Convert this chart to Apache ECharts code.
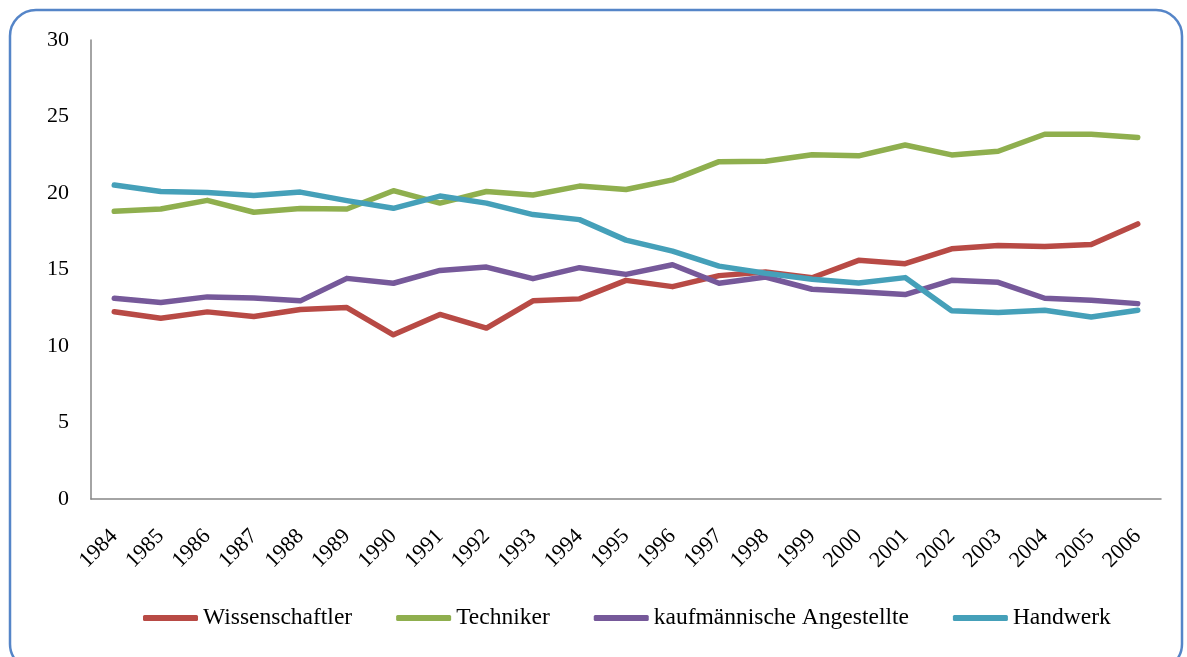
<!DOCTYPE html>
<html>
<head>
<meta charset="utf-8">
<script src="https://cdn.jsdelivr.net/npm/echarts@6/dist/echarts.min.js"></script>
<style>
  html, body { margin: 0; padding: 0; background: #fff; }
  #chart-container { width: 1187px; height: 657px; }
</style>
</head>
<body>
<div id="chart-container"></div>
<script>
const years = [
  "1984", "1985", "1986", "1987", "1988", "1989", "1990", "1991", "1992",
  "1993", "1994", "1995", "1996", "1997", "1998", "1999", "2000", "2001",
  "2002", "2003", "2004", "2005", "2006",
];

const wissenschaftler = [
  12.24, 11.82, 12.23, 11.93, 12.38, 12.51, 10.73, 12.06, 11.17, 12.95, 13.08,
  14.29, 13.88, 14.6, 14.83, 14.46, 15.6, 15.38, 16.35, 16.57, 16.5, 16.63, 17.98,
];
const techniker = [
  18.8, 18.95, 19.52, 18.74, 18.98, 18.95, 20.15, 19.34, 20.1, 19.87, 20.45,
  20.23, 20.86, 22.05, 22.08, 22.5, 22.43, 23.14, 22.49, 22.73, 23.84, 23.84, 23.62,
];
const kaufmaennisch = [
  13.12, 12.84, 13.21, 13.14, 12.95, 14.42, 14.1, 14.94, 15.16, 14.4, 15.12,
  14.68, 15.31, 14.1, 14.51, 13.71, 13.55, 13.36, 14.29, 14.16, 13.12, 12.99, 12.77,
];
const handwerk = [
  20.52, 20.1, 20.04, 19.84, 20.06, 19.5, 19.0, 19.8, 19.34, 18.59, 18.26,
  16.92, 16.2, 15.22, 14.75, 14.36, 14.12, 14.47, 12.3, 12.19, 12.34, 11.9, 12.34,
];

const seriesNames = [
  "Wissenschaftler",
  "Techniker",
  "kaufmännische Angestellte",
  "Handwerk",
];
const seriesColors = ["#B84A45", "#8FAF4E", "#76599A", "#45A0B9"];
const seriesData = [wissenschaftler, techniker, kaufmaennisch, handwerk];

const fontFamily = "'Liberation Serif', 'DejaVu Serif', serif";

const dom = document.getElementById("chart-container");
const myChart = echarts.init(dom, null, { renderer: "canvas" });

const option = {
  backgroundColor: "#ffffff",
  animation: false,
  graphic: [
    {
      type: "rect",
      shape: { x: 10, y: 10, width: 1172, height: 660, r: 26 },
      style: { fill: "none", stroke: "#5585C8", lineWidth: 2.5 },
      z: -1,
    },
  ],
  grid: {
    left: 91,
    right: 26,
    top: 40,
    bottom: 158,
  },
  legend: {
    bottom: 22,
    left: 138,
    itemWidth: 55,
    itemHeight: 6,
    itemGap: 44,
    icon: "roundRect",
    textStyle: {
      fontFamily: fontFamily,
      fontSize: 23.5,
      color: "#000",
    },
    data: seriesNames,
  },
  xAxis: {
    type: "category",
    data: years,
    axisLine: { lineStyle: { color: "#868686", width: 1.5 } },
    axisTick: { show: false },
    axisLabel: {
      rotate: 45,
      margin: 34,
      fontFamily: fontFamily,
      fontSize: 22,
      color: "#000",
    },
  },
  yAxis: {
    type: "value",
    min: 0,
    max: 30,
    interval: 5,
    axisLine: { show: true, lineStyle: { color: "#868686", width: 1.5 } },
    axisTick: { show: false },
    splitLine: { show: false },
    axisLabel: {
      margin: 22,
      fontFamily: fontFamily,
      fontSize: 22,
      color: "#000",
    },
  },
  series: seriesNames.map((name, i) => ({
    name: name,
    type: "line",
    data: seriesData[i],
    showSymbol: false,
    symbol: "none",
    color: seriesColors[i],
    lineStyle: { width: 5.5, color: seriesColors[i], cap: "round", join: "round" },
  })),
};

myChart.setOption(option);
window.addEventListener("resize", myChart.resize);
</script>
</body>
</html>
